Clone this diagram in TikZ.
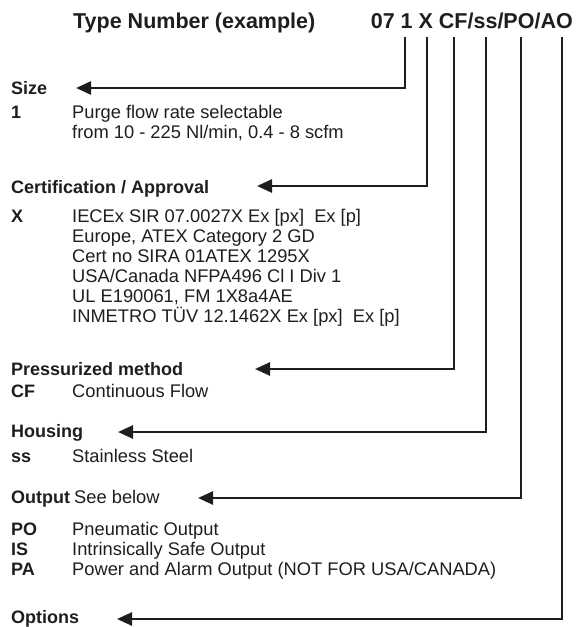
\documentclass[tikz,border=0pt]{standalone}
\usepackage{fontspec}
\setmainfont{Liberation Sans}
\usetikzlibrary{arrows.meta}
\definecolor{ink}{HTML}{1E1E1E}
\begin{document}
\begin{tikzpicture}[x=1pt,y=-1pt,
  conn/.style={line width=2.6pt, draw=ink, -{Triangle[length=15pt,width=13pt]}},
  head/.style={anchor=base west, inner sep=0pt, text=ink, font=\fontsize{18}{20}\selectfont\bfseries},
  lab/.style={anchor=base west, inner sep=0pt, text=ink, font=\fontsize{18}{20}\selectfont\bfseries},
  body/.style={anchor=base west, inner sep=0pt, text=ink, font=\fontsize{18.3}{20}\selectfont},
  title/.style={inner sep=0pt, text=ink, font=\fontsize{21.5}{24}\selectfont\bfseries}]
\useasboundingbox (0,0) rectangle (576,627);

% header
\node[title, anchor=base west] (type) at (73,28) {Type Number (example)};
\node[title, anchor=base east] (code) at (573,28) {07 1 X CF/ss/PO/AO};

% line tops below the code
\coordinate (c1) at (405,37);
\coordinate (c2) at (427,37);
\coordinate (c3) at (454,37);
\coordinate (c4) at (486,37);
\coordinate (c5) at (521,37);
\coordinate (c6) at (562,37);

% Size
\node[head] (hsize) at (11,94) {Size};
\node[lab] (lsize) at (11,118) {1};
\node[body] (bsize) at (72,118) {\parbox[t]{400pt}{Purge flow rate selectable\\from 10 - 225 Nl/min, 0.4 - 8 scfm}};
\coordinate (a1) at (76,88);

% Certification
\node[head] (hcert) at (11,193) {Certification / Approval};
\node[lab] (lcert) at (11,222) {X};
\node[body] (bcert) at (72,222) {\parbox[t]{400pt}{IECEx SIR 07.0027X Ex [px]\ \ Ex [p]\\Europe, ATEX Category 2 GD\\Cert no SIRA 01ATEX 1295X\\USA/Canada NFPA496 Cl I Div 1\\UL E190061, FM 1X8a4AE\\INMETRO TÜV 12.1462X Ex [px]\ \ Ex [p]}};
\coordinate (a2) at (257,186);

% Pressurized method
\node[head] (hpress) at (11,375) {Pressurized method};
\node[lab] (lpress) at (11,397) {CF};
\node[body] (bpress) at (72,397) {Continuous Flow};
\coordinate (a3) at (255,369);

% Housing
\node[head] (hhouse) at (11,437) {Housing};
\node[lab] (lhouse) at (11,462) {ss};
\node[body] (bhouse) at (72,462) {Stainless Steel};
\coordinate (a4) at (118,432);

% Output
\node[head] (hout) at (11,503) {Output};
\node[body] (sout) at (74,503) {See below};
\node[lab] (lout) at (11,535) {\parbox[t]{60pt}{PO\\IS\\PA}};
\node[body] (bout) at (72,535) {\parbox[t]{460pt}{Pneumatic Output\\Intrinsically Safe Output\\Power and Alarm Output (NOT FOR USA/CANADA)}};
\coordinate (a5) at (198,498);

% Options
\node[head] (hopt) at (11,623) {Options};
\coordinate (a6) at (117,619);

% connectors
\draw[conn] (c1) |- (a1);
\draw[conn] (c2) |- (a2);
\draw[conn] (c3) |- (a3);
\draw[conn] (c4) |- (a4);
\draw[conn] (c5) |- (a5);
\draw[conn] (c6) |- (a6);
\end{tikzpicture}
\end{document}
